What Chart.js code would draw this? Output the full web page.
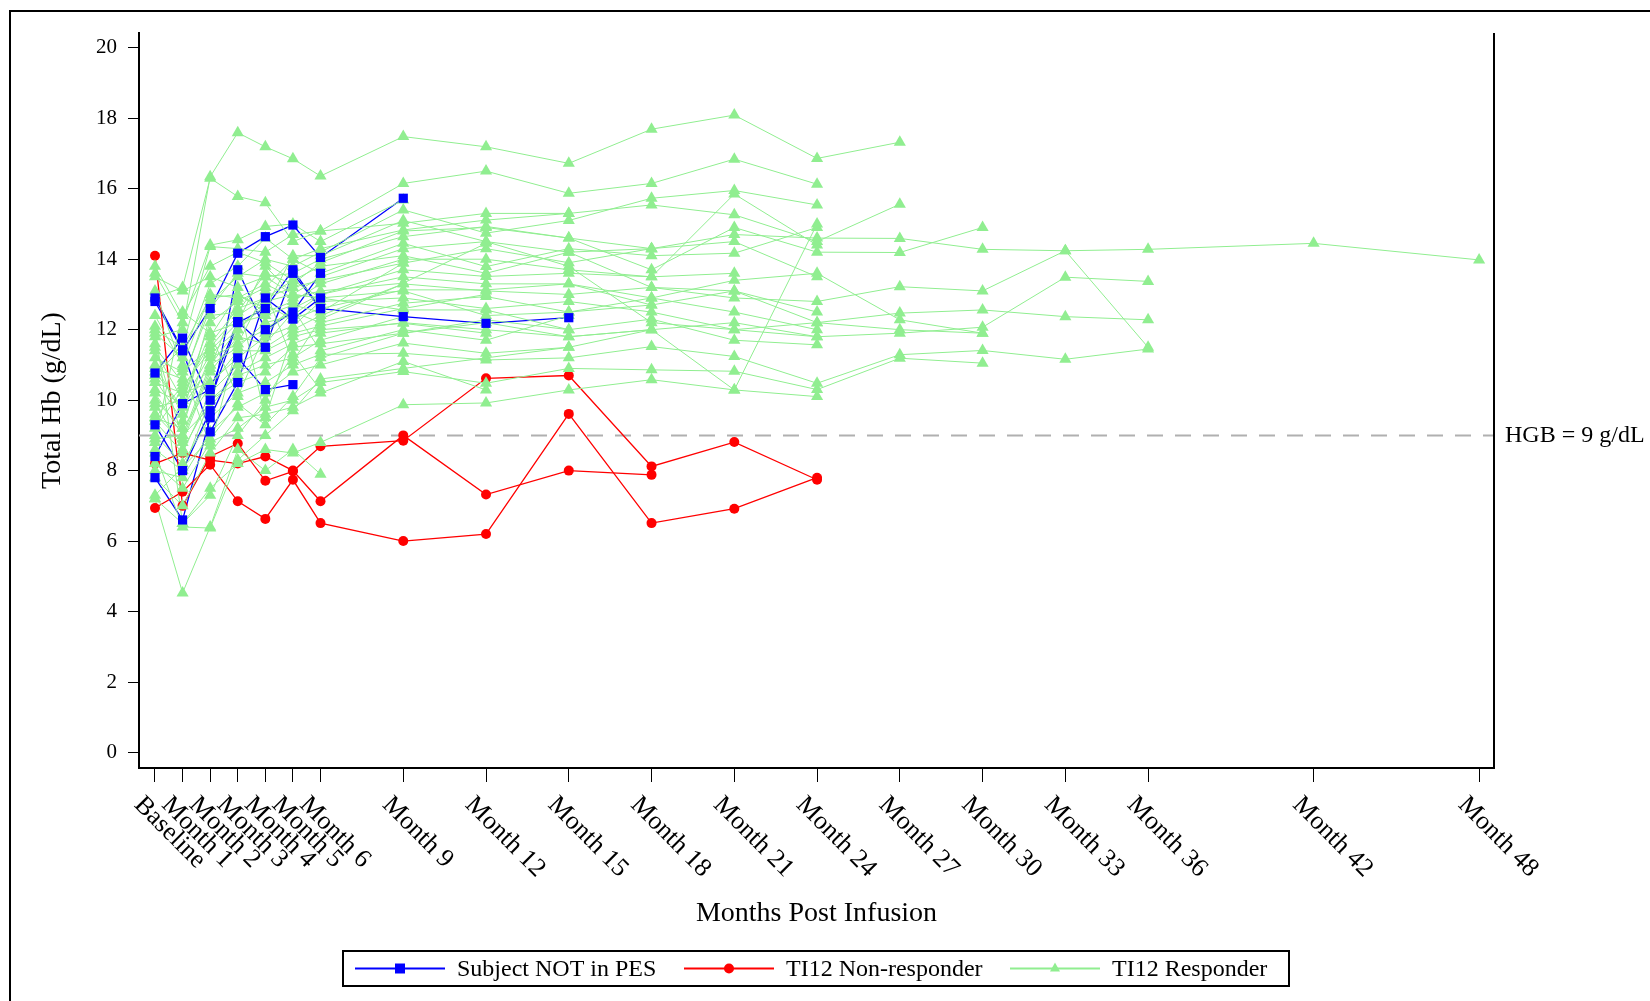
<!DOCTYPE html>
<html>
<head>
<meta charset="utf-8">
<script src="https://cdn.jsdelivr.net/npm/chart.js@4.4.1/dist/chart.umd.min.js"></script>
<style>
  html, body { margin: 0; padding: 0; background: #fff; }
  #wrap { width: 1650px; height: 1001px; }
</style>
</head>
<body>
<div id="wrap"><canvas id="myChart" width="1650" height="1001"></canvas></div>
<script>
// visit months (x positions) and their tick labels
const months = [0, 1, 2, 3, 4, 5, 6, 9, 12, 15, 18, 21, 24, 27, 30, 33, 36, 42, 48];
const tickLabels = ["Baseline", "Month 1", "Month 2", "Month 3", "Month 4", "Month 5", "Month 6",
  "Month 9", "Month 12", "Month 15", "Month 18", "Month 21", "Month 24", "Month 27",
  "Month 30", "Month 33", "Month 36", "Month 42", "Month 48"];
const yTickValues = [0, 2, 4, 6, 8, 10, 12, 14, 16, 18, 20];
const groupNames = ["Subject NOT in PES", "TI12 Non-responder", "TI12 Responder"];
const hgbLine = 9;
const hgbLabel = "HGB = 9 g/dL";

// one row per subject, values in the order of `months`
const notInPes = [
  [12.8, 11.4, 12.6, 14.17, 14.64, 14.97, 14.05, 15.73],
  [10.77, 11.76, 10.0, 12.2, 12.6, 13.7, 12.6, 12.37, 12.18, 12.34],
  [7.8, 6.6, 9.5, 11.2, 10.3, 10.44],
  [9.3, 8.0, 9.7, 13.7, 12.0, 12.5, 13.6],
  [8.4, 9.9, 10.3, 12.23, 11.5, 13.6, 12.6],
  [12.9, 11.43, 9.1, 10.5, 12.9, 12.3, 12.9]
];
const nonResponders = [
  [14.1, 7.0, 8.4, 8.77, 7.71, 7.98, 8.69, 8.85, 10.62, 10.70, 8.12, 8.81, 7.74],
  [6.94, 7.4, 8.17, 7.13, 6.63, 7.74, 6.51, 6.0, 6.2, 9.61, 6.51, 6.92, 7.80],
  [8.2, 8.5, 8.3, 8.2, 8.4, 8.0, 7.13, 9.0, 7.32, 8.0, 7.88]
];
const responders = [
  [10.2, 9.0, 11.0, 12.0, 12.8, 13.0, 13.5, 14.3, 14.5, 14.2, 14.3, 14.7, 14.6, 14.59, 14.28, 14.24, 14.28, 14.45, 13.98],
  [11.0, 9.6, 12.4, 12.5, 13.6, 13.3, 13.9, 14.8, 14.9, 14.6, 13.7, 14.9, 14.2, 14.19, 14.9],
  [9.4, 8.5, 10.2, 11.0, 11.5, 12.0, 12.4, 13.3, 13.1, 13.0, 13.2, 12.9, 12.8, 13.22, 13.1, 14.24, 11.5],
  [10.5, 10.2, 10.5, 11.2, 11.8, 12.1, 12.8, 12.9, 12.6, 12.8, 12.5, 12.0, 12.2, 12.47, 12.56, 12.37, 12.28],
  [8.9, 9.0, 9.8, 10.8, 11.2, 11.6, 11.9, 12.2, 12.0, 11.8, 12.0, 12.2, 11.8, 11.9, 12.07, 13.49, 13.37],
  [9.0, 8.2, 9.5, 10.2, 10.5, 11.0, 11.3, 11.33, 11.14, 11.2, 11.52, 11.24, 10.48, 11.29, 11.41, 11.16, 11.45],
  [8.2, 7.5, 8.8, 9.2, 9.8, 10.0, 10.5, 10.81, 10.48, 10.9, 10.86, 10.82, 10.3, 11.19, 11.05],
  [11.8, 12.0, 16.34, 17.59, 17.19, 16.85, 16.36, 17.48, 17.19, 16.72, 17.69, 18.09, 16.86, 17.32],
  [12.9, 13.2, 16.3, 15.78, 15.6, 14.5, 14.8, 15.02, 15.3, 15.3, 15.54, 15.26, 14.5, 15.56],
  [10.8, 9.8, 11.0, 11.5, 12.2, 12.4, 13.0, 13.5, 13.3, 13.3, 12.9, 13.4, 13.6, 12.28, 11.9],
  [12.0, 11.5, 14.36, 14.3, 14.2, 14.7, 14.8, 16.15, 16.5, 15.87, 16.15, 16.84, 16.13],
  [11.5, 10.5, 12.8, 13.5, 14.0, 13.8, 14.2, 15.4, 14.74, 15.1, 15.73, 15.95, 15.54],
  [9.8, 10.0, 12.2, 12.8, 13.2, 14.0, 13.6, 14.45, 13.79, 14.3, 14.1, 14.17, 14.9],
  [10.0, 9.2, 11.8, 13.0, 12.5, 12.8, 13.3, 14.0, 14.0, 13.7, 13.5, 15.85, 14.4],
  [9.6, 8.8, 10.8, 11.8, 11.6, 12.5, 12.2, 12.75, 12.94, 12.5, 12.7, 13.1, 12.5],
  [8.6, 8.0, 10.0, 10.5, 10.8, 11.5, 11.6, 11.9, 12.28, 12.0, 12.3, 11.7, 11.57],
  [7.2, 6.5, 7.5, 8.2, 8.6, 8.5, 8.8, 9.87, 9.92, 10.29, 10.58, 10.29, 10.1],
  [11.2, 10.8, 11.5, 12.4, 12.9, 13.2, 13.4, 13.89, 14.3, 13.9, 14.3, 14.5, 13.5],
  [10.6, 9.4, 11.2, 11.6, 12.0, 12.6, 13.0, 13.7, 13.51, 13.6, 13.5, 13.6],
  [9.5, 10.4, 11.4, 12.2, 13.8, 13.0, 12.9, 13.1, 12.4, 12.5, 12.9, 12.5, 12.0],
  [10.3, 9.9, 11.3, 12.0, 12.7, 12.3, 12.6, 13.13, 13.13, 13.3, 12.7],
  [10.9, 10.6, 12.6, 13.6, 13.5, 13.6, 14.0, 14.64, 14.93, 14.6, 14.3],
  [8.0, 7.8, 9.1, 9.8, 10.2, 10.8, 11.0, 11.62, 11.33, 11.5],
  [11.9, 11.2, 13.3, 13.8, 14.6, 14.0, 14.3, 14.83, 15.11, 15.3],
  [9.2, 10.3, 11.6, 12.6, 12.9, 13.4, 12.9, 12.56, 12.56, 12.0],
  [12.4, 11.0, 13.0, 12.9, 13.3, 12.9, 13.1, 13.32, 14.45],
  [9.5, 9.2, 10.4, 11.4, 11.4, 11.8, 12.0, 12.18, 11.9],
  [7.8, 7.0, 8.5, 9.5, 9.6, 9.8, 10.2, 11.1, 10.29],
  [13.6, 12.2, 14.4, 14.55, 14.93, 15.0, 14.5, 15.68],
  [11.4, 10.0, 11.9, 12.2, 12.4, 12.7, 12.5, 13.89],
  [9.9, 8.6, 10.0, 10.7, 11.0, 11.2, 11.7, 12.37],
  [7.2, 4.53, 6.4, 8.6, 8.0, 8.6, 7.9],
  [13.5, 13.1, 13.5, 13.2, 13.5, 13.0, 12.9],
  [12.1, 6.5, 7.3, 9.0, 10.0, 11.3, 10.3],
  [7.3, 8.1, 8.9, 9.9, 9.3, 10.1, 11.2, 11.9, 12.2, 11.8, 12.0],
  [13.8, 12.4, 13.8, 14.2, 13.9, 13.4, 13.8, 14.1, 13.6, 14.2, 13.2, 13.1, 12.2, 12.0, 11.9],
  [10.7, 11.5, 12.9, 13.0, 12.6, 14.1, 14.1, 15.1, 14.5, 13.8, 12.2, 12.0, 11.8],
  [8.5, 6.4, 6.37, 8.3, 9.0, 9.7, 10.6, 10.9, 11.2, 11.5, 12.0, 10.29, 15.0],
  [11.6, 8.9, 10.9, 12.9, 9.5, 11.9, 12.1, 12.6, 13.0],
  [13.1, 10.9, 8.7, 11.6, 13.1, 11.1, 12.3, 13.3],
  [8.8, 12.5, 11.9, 10.1, 11.9, 12.6, 11.4, 12.0, 11.7, 12.4]
];

const serif = "'Liberation Serif', 'Times New Roman', serif";
const groupStyle = [
  { color: '#0000ff', point: 'rect', radius: 6.5, width: 1.3, lineOrder: 12, pointOrder: 1 },
  { color: '#ff0000', point: 'circle', radius: 5, width: 1.3, lineOrder: 11, pointOrder: 3 },
  { color: '#90ee90', point: 'triangle', radius: 7, width: 1, lineOrder: 10, pointOrder: 2 }
];

// lines of every group are drawn first, the markers after them
function makeSets(rows, g) {
  const st = groupStyle[g];
  const sets = [];
  rows.forEach(vals => {
    const pts = vals.map((v, i) => ({ x: months[i], y: v }));
    sets.push({
      label: groupNames[g], data: pts, borderColor: st.color, borderWidth: st.width,
      pointRadius: 0, tension: 0, order: st.lineOrder
    });
    sets.push({
      label: groupNames[g], data: pts, showLine: false, pointStyle: st.point,
      pointRadius: st.radius, pointBorderWidth: 0, pointBackgroundColor: st.color,
      borderColor: st.color, backgroundColor: st.color, order: st.pointOrder
    });
  });
  return sets;
}

const datasets = [].concat(makeSets(notInPes, 0), makeSets(nonResponders, 1), makeSets(responders, 2));

const decor = {
  id: 'decor',
  beforeDatasetsDraw(chart) {
    const ctx = chart.ctx, a = chart.chartArea;
    const y = chart.scales.y.getPixelForValue(hgbLine);
    ctx.save();
    ctx.strokeStyle = '#b0b0b0';
    ctx.lineWidth = 2;
    ctx.setLineDash([16, 12]);
    ctx.beginPath();
    ctx.moveTo(a.left, y);
    ctx.lineTo(a.right, y);
    ctx.stroke();
    ctx.restore();
  },
  afterDraw(chart) {
    const ctx = chart.ctx, a = chart.chartArea;
    const xs = chart.scales.x, ys = chart.scales.y;
    ctx.save();
    // outer frame
    ctx.strokeStyle = '#000';
    ctx.lineWidth = 2;
    ctx.beginPath();
    ctx.moveTo(10, 1001);
    ctx.lineTo(10, 11);
    ctx.lineTo(1650, 11);
    ctx.stroke();
    // right side of plot
    ctx.beginPath();
    ctx.moveTo(a.right, a.top);
    ctx.lineTo(a.right, a.bottom);
    ctx.stroke();

    // reference line label
    ctx.fillStyle = '#000';
    ctx.font = '24px ' + serif;
    ctx.textAlign = 'left';
    ctx.textBaseline = 'middle';
    ctx.fillText(hgbLabel, a.right + 11, ys.getPixelForValue(hgbLine));

    // x tick labels, slanted down to the right
    ctx.font = '26px ' + serif;
    months.forEach((m, i) => {
      const px = xs.getPixelForValue(m);
      ctx.save();
      ctx.translate(px - 17, a.bottom + 33);
      ctx.rotate(Math.PI / 4);
      ctx.fillText(tickLabels[i], 0, 0);
      ctx.restore();
    });

    // legend
    const box = { x: 343, y: 951, w: 946, h: 35 };
    ctx.lineWidth = 2;
    ctx.strokeStyle = '#000';
    ctx.strokeRect(box.x, box.y, box.w, box.h);
    const cy = box.y + box.h / 2;
    const starts = [355, 684, 1010];
    ctx.font = '24px ' + serif;
    groupNames.forEach((name, g) => {
      const st = groupStyle[g];
      const x0 = starts[g], x1 = x0 + 90, mx = (x0 + x1) / 2;
      ctx.strokeStyle = st.color;
      ctx.fillStyle = st.color;
      ctx.lineWidth = 2;
      ctx.beginPath();
      ctx.moveTo(x0, cy);
      ctx.lineTo(x1, cy);
      ctx.stroke();
      ctx.beginPath();
      if (st.point === 'rect') {
        ctx.rect(mx - 5, cy - 5, 10, 10);
      } else if (st.point === 'circle') {
        ctx.arc(mx, cy, 5, 0, Math.PI * 2);
      } else {
        ctx.moveTo(mx, cy - 6);
        ctx.lineTo(mx + 5, cy + 3);
        ctx.lineTo(mx - 5, cy + 3);
        ctx.closePath();
      }
      ctx.fill();
      ctx.fillStyle = '#000';
      ctx.fillText(name, x1 + 12, cy + 1);
    });
    ctx.restore();
  }
};

const ctx = document.getElementById('myChart').getContext('2d');
const myChart = new Chart(ctx, {
  type: 'line',
  data: { datasets: datasets },
  options: {
    responsive: false,
    animation: false,
    devicePixelRatio: 1,
    layout: { padding: { left: 0, top: 33, right: 156, bottom: 0 } },
    plugins: { legend: { display: false }, tooltip: { enabled: false } },
    scales: {
      x: {
        type: 'linear',
        min: -0.58,
        max: 48.54,
        afterBuildTicks: s => { s.ticks = months.map(v => ({ value: v })); },
        afterFit: s => { s.height = 233; },
        ticks: { display: false },
        grid: { display: true, drawOnChartArea: false, drawTicks: true, tickLength: 14, color: '#000', lineWidth: 1 },
        border: { display: true, color: '#000', width: 2 },
        title: { display: true, text: 'Months Post Infusion', color: '#000',
          font: { family: serif, size: 28 }, padding: { top: 0, bottom: 71 } }
      },
      y: {
        type: 'linear',
        min: -0.44,
        max: 20.42,
        afterBuildTicks: s => { s.ticks = yTickValues.map(v => ({ value: v })); },
        afterFit: s => { s.width = 139; },
        ticks: { color: '#000', font: { family: serif, size: 21 }, padding: 11 },
        grid: { display: true, drawOnChartArea: false, drawTicks: true, tickLength: 11, color: '#000', lineWidth: 1 },
        border: { display: true, color: '#000', width: 2 },
        title: { display: true, text: 'Total Hb (g/dL)', color: '#000',
          font: { family: serif, size: 28 }, padding: { top: 36, bottom: 0 } }
      }
    }
  },
  plugins: [decor]
});
</script>
</body>
</html>
